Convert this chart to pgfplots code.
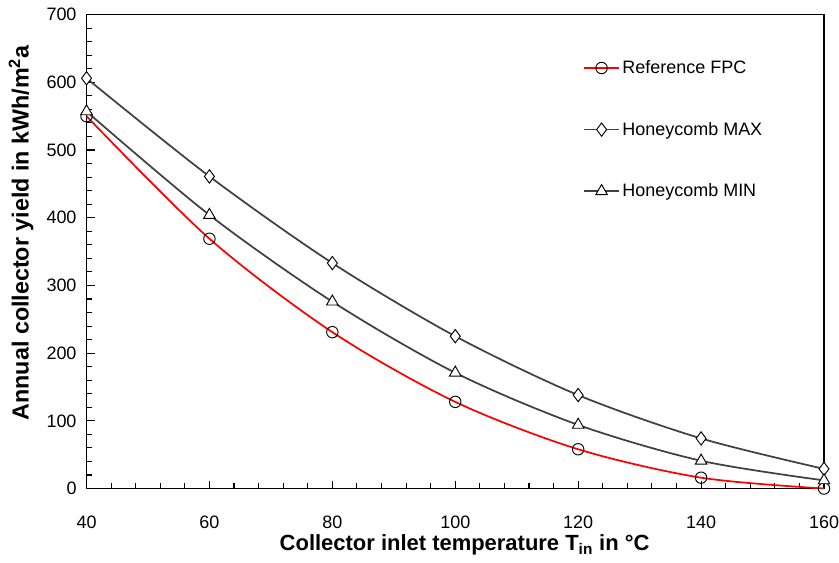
\documentclass[border=0pt]{standalone}
\usepackage{fontspec}
\setmainfont{Liberation Sans}
\usepackage{pgfplots}
\pgfplotsset{compat=1.18}

\definecolor{darkline}{RGB}{64,64,64}

\begin{document}
\begin{tikzpicture}
\begin{axis}[
    scale only axis,
    width=554pt, height=356pt,
    xmin=40, xmax=160, ymin=0, ymax=700,
    xtick={40,60,...,160}, ytick={0,100,...,700},
    minor x tick num=4, minor y tick num=4,
    tick align=inside,
    xtick pos=bottom, ytick pos=left,
    major tick length=6pt, minor tick length=4pt,
    axis line style={line width=1.2pt},
    every tick/.style={black, line width=0.8pt},
    tick label style={font=\fontsize{13.5}{16}\selectfont},
    xticklabel style={yshift=-17pt, inner xsep=0pt},
    yticklabel style={xshift=-4pt},
    /pgf/number format/assume math mode=true,
    /pgf/number format/set thousands separator={},
    xlabel={\bfseries Collector inlet temperature T\textsubscript{in} in °C},
    ylabel={\bfseries Annual collector yield in kWh/m\textsuperscript{2}a},
    xlabel style={font=\fontsize{16.5}{18}\selectfont, yshift=2pt, xshift=7pt},
    ylabel style={font=\fontsize{17.5}{19}\selectfont, yshift=3pt, xshift=14pt},
    legend style={at={(0.668,0.915)}, anchor=north west, draw=none, fill=none,
        font=\fontsize{13.5}{15}\selectfont, row sep=31pt},
    legend cell align=left,
    legend image code/.code={
        \draw[#1, line width=1.3pt] (0pt,0pt) -- (26pt,0pt);
        \draw[#1, only marks] plot coordinates {(13pt,0pt)};
    },
    every axis plot/.append style={line width=1.3pt, smooth, tension=0.5},
]
\addplot[red, mark=o, mark size=4.3pt, mark options={fill=white, draw=black, line width=0.7pt}] coordinates {
  (40,550) (60,369) (80,231) (100,128) (120,58) (140,16) (160,0)
};
\addlegendentry{Reference FPC}
\addplot[darkline, mark=diamond*, mark size=5pt, mark options={fill=white, draw=black, line width=0.7pt}] coordinates {
  (40,606) (60,461) (80,333) (100,225) (120,138) (140,74) (160,29)
};
\addlegendentry{Honeycomb MAX}
\addplot[darkline, mark=triangle*, mark size=5pt, mark options={fill=white, draw=black, line width=0.7pt}] coordinates {
  (40,557) (60,404) (80,276) (100,171) (120,94) (140,41) (160,12)
};
\addlegendentry{Honeycomb MIN}
\end{axis}
\path ([shift={(-65pt,-55.5pt)}]current axis.south west) rectangle ([shift={(10pt,11pt)}]current axis.north east);
\end{tikzpicture}
\end{document}
